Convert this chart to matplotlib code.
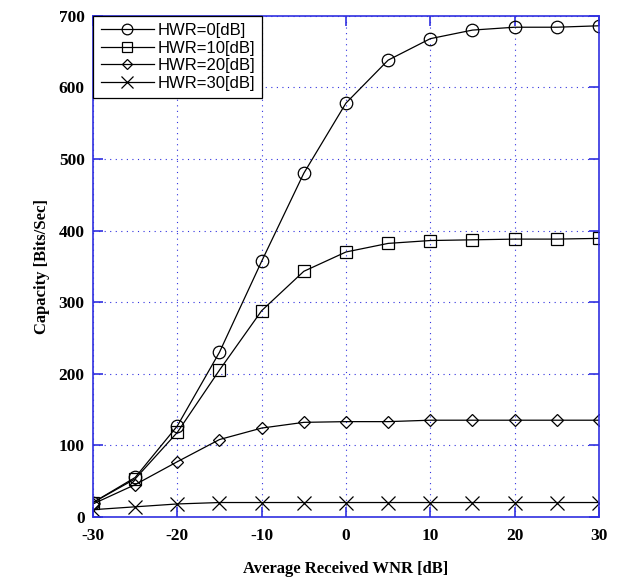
import matplotlib
matplotlib.use("Agg")
import matplotlib.pyplot as plt

plt.rcParams["axes.unicode_minus"] = False

# ------------------ data ------------------ #
wnr = [-30, -25, -20, -15, -10, -5, 0, 5, 10, 15, 20, 25, 30]
hwr_0 = [20, 55, 127, 230, 357, 480, 578, 638, 668, 680, 684, 684, 686]
hwr_10 = [20, 53, 118, 205, 288, 343, 370, 382, 386, 387, 388, 388, 389]
hwr_20 = [18, 45, 77, 108, 124, 132, 133, 133, 135, 135, 135, 135, 135]
hwr_30 = [10, 14, 18, 20, 20, 20, 20, 20, 20, 20, 20, 20, 20]

series = [
    (hwr_0, "o", "HWR=0[dB]", 9),
    (hwr_10, "s", "HWR=10[dB]", 9),
    (hwr_20, "D", "HWR=20[dB]", 6),
    (hwr_30, "x", "HWR=30[dB]", 10),
]

axis_blue = "#3030e0"

fig = plt.figure(figsize=(6.2, 5.84), dpi=100)
ax = fig.add_axes([0.15, 0.115, 0.816, 0.858])

for values, marker, label, size in series:
    ax.plot(wnr, values, color="black", lw=0.9, marker=marker, markersize=size,
            markerfacecolor="none", markeredgecolor="black", markeredgewidth=0.9,
            label=label)

ax.set_xlim(-30, 30)
ax.set_ylim(0, 700)
ax.set_xticks(range(-30, 31, 10))
ax.set_yticks(range(0, 701, 100))

ax.grid(True, color=axis_blue, linestyle=(0, (1, 4)), linewidth=0.8)
for spine in ax.spines.values():
    spine.set_color(axis_blue)
    spine.set_linewidth(1.2)
ax.tick_params(direction="in", colors=axis_blue, length=7, width=1.2,
               top=True, right=True, labelcolor="black")

for lab in ax.get_xticklabels() + ax.get_yticklabels():
    lab.set_fontfamily("Liberation Serif")
    lab.set_fontweight("bold")
    lab.set_fontsize(12.5)
ax.tick_params(axis="x", pad=8)
ax.tick_params(axis="y", pad=6)

ax.set_xlabel("Average Received WNR [dB]", family="Liberation Serif",
              fontweight="bold", fontsize=12, labelpad=12)
ax.set_ylabel("Capacity [Bits/Sec]", family="Liberation Serif",
              fontweight="bold", fontsize=12, labelpad=6)

leg = ax.legend(loc="upper left", prop={"family": "Liberation Sans", "size": 12},
                fancybox=False, edgecolor="black", framealpha=1,
                borderaxespad=0, handlelength=3.2, handletextpad=0.2,
                labelspacing=0.15, borderpad=0.45, markerscale=0.85)
leg.get_frame().set_linewidth(0.9)

fig.savefig("out.png", dpi=100)
